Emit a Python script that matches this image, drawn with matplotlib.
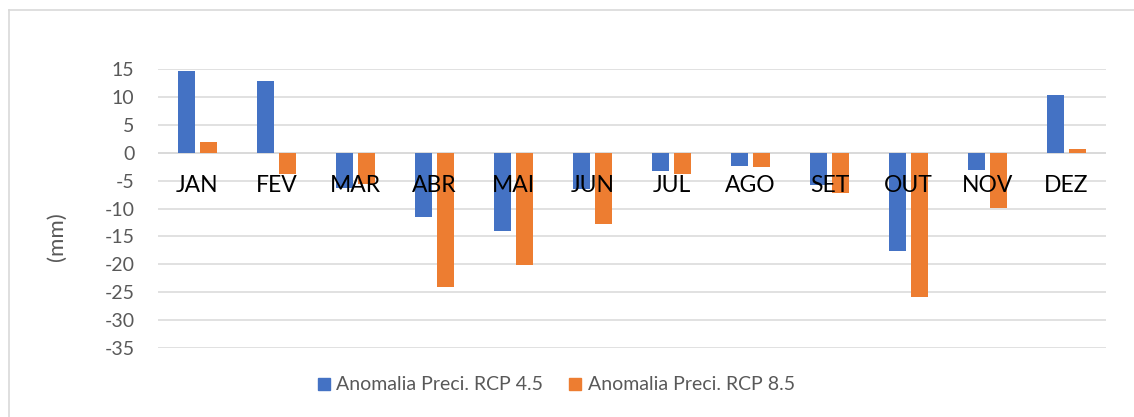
import numpy as np
import matplotlib.pyplot as plt
import matplotlib
from matplotlib.lines import Line2D

## data
months = ["JAN", "FEV", "MAR", "ABR", "MAI", "JUN", "JUL", "AGO", "SET", "OUT", "NOV", "DEZ"]
rcp45 = [14.6, 12.9, -6.3, -11.5, -14.0, -6.5, -3.3, -2.3, -5.8, -17.7, -3.1, 10.4]
rcp85 = [2.0, -3.9, -5.6, -24.1, -20.2, -12.7, -3.9, -2.6, -7.2, -25.8, -9.9, 0.6]
series_names = ["Anomalia Preci. RCP 4.5", "Anomalia Preci. RCP 8.5"]
yticks = np.arange(-35, 16, 5)

blue = "#4472C4"
orange = "#ED7D31"
grid_c = "#D9D9D9"
text_c = "#595959"

matplotlib.rcParams["font.family"] = ["Lato", "DejaVu Sans"]

W, H = 1134, 417
fig = plt.figure(figsize=(W/100, H/100), dpi=100)
# plot area in pixels: x 158..1106, y 69..348
ax = fig.add_axes([158/W, 1-348/H, (1106-158)/W, (348-69)/H])

x = np.arange(len(months))
bw = 0.22
off = 0.142
ax.bar(x - off, rcp45, bw, color=blue, zorder=3)
ax.bar(x + off, rcp85, bw, color=orange, zorder=3)

ax.set_xlim(-0.5, len(months) - 0.5)
ax.set_ylim(-35, 15)
ax.set_yticks(yticks)
ax.set_yticklabels([str(v) for v in yticks], color=text_c, fontsize=14)
ax.tick_params(axis="y", length=0, pad=17)
ax.yaxis.grid(True, color=grid_c, linewidth=1.1, zorder=0)
ax.set_axisbelow(True)

ax.set_xticks([])
for sp in ["top", "right", "left", "bottom"]:
    ax.spines[sp].set_visible(False)
ax.axhline(0, color=grid_c, linewidth=1.1, zorder=1)

# category labels sit just under the zero line, drawn over the bars
for i, m in enumerate(months):
    ax.annotate(m, xy=(x[i], 0), xytext=(0, -16), textcoords="offset points",
                ha="center", va="top", fontsize=16.5, color="black", zorder=5)

fig.text(57/W, 1-237/H, "(mm)", rotation=90, ha="center", va="center",
         fontsize=16, color=text_c)

# square legend keys like Excel
handles = [Line2D([], [], marker="s", linestyle="none", markersize=9,
                  markerfacecolor=c, markeredgecolor=c) for c in (blue, orange)]
fig.legend(handles, series_names, loc="center", bbox_to_anchor=(556/W, 1-385/H),
           ncol=2, frameon=False, fontsize=14, labelcolor=text_c,
           handlelength=0.7, handletextpad=0.3, columnspacing=1.3)

# chart frame (runs off the right and bottom of the picture)
fig.add_artist(Line2D([9/W, 1], [1-10/H, 1-10/H], color=grid_c, linewidth=1.2))
fig.add_artist(Line2D([9/W, 9/W], [0, 1-10/H], color=grid_c, linewidth=1.2))

fig.savefig("out.png", dpi=100, facecolor="white")
